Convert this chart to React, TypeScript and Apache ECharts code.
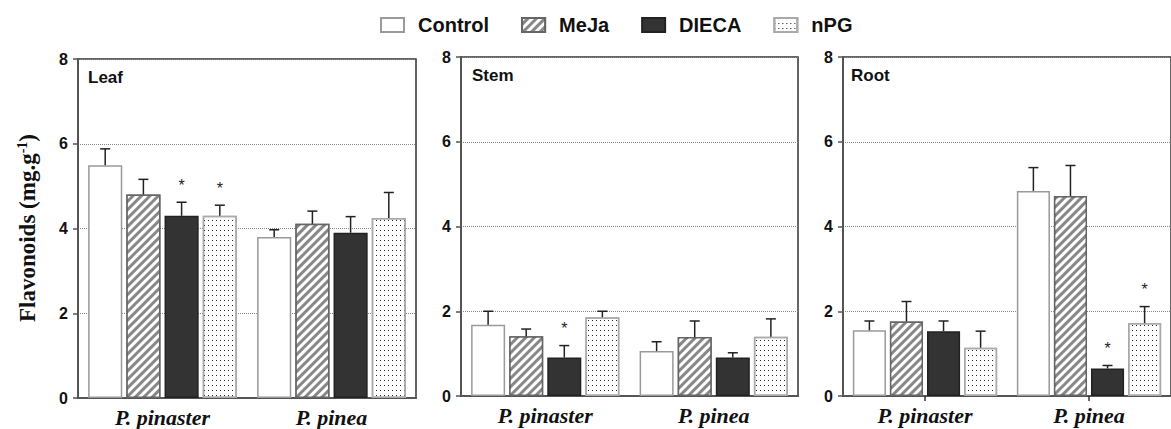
import { useEffect, useRef } from "react";
import * as echarts from "echarts";

const categories = ["P. pinaster", "P. pinea"];
const treatments = ["Control", "MeJa", "DIECA", "nPG"];
const panelNames = ["Leaf", "Stem", "Root"];

// Leaf
const leafControl = [5.49, 3.8];
const leafControlErr = [0.39, 0.17];
const leafMeJa = [4.8, 4.11];
const leafMeJaErr = [0.36, 0.3];
const leafDIECA = [4.3, 3.9];
const leafDIECAErr = [0.32, 0.38];
const leafNPG = [4.3, 4.25];
const leafNPGErr = [0.25, 0.6];
const leafSig = [[0, 0], [0, 0], [1, 0], [1, 0]];

// Stem
const stemControl = [1.68, 1.06];
const stemControlErr = [0.32, 0.22];
const stemMeJa = [1.41, 1.39];
const stemMeJaErr = [0.17, 0.38];
const stemDIECA = [0.91, 0.91];
const stemDIECAErr = [0.28, 0.11];
const stemNPG = [1.86, 1.4];
const stemNPGErr = [0.14, 0.42];
const stemSig = [[0, 0], [0, 0], [1, 0], [0, 0]];

// Root
const rootControl = [1.55, 4.84];
const rootControlErr = [0.22, 0.55];
const rootMeJa = [1.76, 4.72];
const rootMeJaErr = [0.47, 0.72];
const rootDIECA = [1.53, 0.65];
const rootDIECAErr = [0.24, 0.07];
const rootNPG = [1.14, 1.72];
const rootNPGErr = [0.39, 0.39];
const rootSig = [[0, 0], [0, 0], [0, 1], [0, 1]];

const yMin = 0;
const yMax = 8;
const yInterval = 2;

const panels = [
  { means: [leafControl, leafMeJa, leafDIECA, leafNPG], errs: [leafControlErr, leafMeJaErr, leafDIECAErr, leafNPGErr], sig: leafSig },
  { means: [stemControl, stemMeJa, stemDIECA, stemNPG], errs: [stemControlErr, stemMeJaErr, stemDIECAErr, stemNPGErr], sig: stemSig },
  { means: [rootControl, rootMeJa, rootDIECA, rootNPG], errs: [rootControlErr, rootMeJaErr, rootDIECAErr, rootNPGErr], sig: rootSig },
];

const gridLayouts = [
  { left: 78, top: 59, width: 338, height: 339 },
  { left: 461, top: 57, width: 337, height: 339 },
  { left: 843, top: 57, width: 338, height: 339 },
];
const labelPos = [
  { x: 88, y: 77 },
  { x: 472, y: 75 },
  { x: 851, y: 75 },
];

const CAT_GAP = 0.12;
const BAR_GAP = 0.12;

const barStyles: any[] = [
  { color: "#ffffff", borderColor: "#9a9a9a", borderWidth: 1.5 },
  {
    color: "#888888",
    borderColor: "#666666",
    borderWidth: 1.5,
    decal: { symbol: "rect", symbolSize: 1, color: "#ffffff", dashArrayX: [1, 0], dashArrayY: [3, 3], rotation: -Math.PI / 4 },
  },
  { color: "#333333", borderColor: "#222222", borderWidth: 1.5 },
  {
    color: "#ffffff",
    borderColor: "#aaaaaa",
    borderWidth: 1.5,
    decal: { symbol: "rect", symbolSize: 1, color: "#222222", dashArrayX: [1, 3], dashArrayY: [1, 4], rotation: 0 },
  },
];

function buildOption() {
  const grid: any[] = [];
  const xAxis: any[] = [];
  const yAxis: any[] = [];
  const series: any[] = [];
  const graphic: any[] = [];

  panels.forEach((p, pi) => {
    grid.push({ ...gridLayouts[pi], show: true, borderColor: "#333", borderWidth: 1.5, backgroundColor: "transparent" });
    xAxis.push({
      type: "category",
      gridIndex: pi,
      data: categories,
      axisLine: { lineStyle: { color: "#555", width: 2 } },
      axisTick: { show: pi === 2, alignWithLabel: true, length: 5, lineStyle: { color: "#333", width: 1.5 } },
      axisLabel: {
        margin: 8,
        fontFamily: "Liberation Serif",
        fontStyle: "italic",
        fontWeight: "bold",
        fontSize: 22,
        color: "#111",
      },
      splitLine: { show: false },
    });
    yAxis.push({
      type: "value",
      gridIndex: pi,
      min: yMin,
      max: yMax,
      interval: yInterval,
      axisLine: { show: true, lineStyle: { color: "#555", width: 2 } },
      axisTick: { show: true, length: 5, lineStyle: { color: "#555", width: 1.5 } },
      axisLabel: { margin: 10, fontFamily: "Liberation Sans", fontWeight: "bold", fontSize: 16, color: "#111" },
      splitLine: { show: true, lineStyle: { color: "#888", type: "dotted", width: 1 } },
    });
    treatments.forEach((t, ti) => {
      series.push({
        type: "bar",
        name: t,
        xAxisIndex: pi,
        yAxisIndex: pi,
        data: p.means[ti],
        barCategoryGap: CAT_GAP * 100 + "%",
        barGap: BAR_GAP * 100 + "%",
        itemStyle: barStyles[ti],
        emphasis: { disabled: true },
      });
    });
    const errData: any[] = [];
    treatments.forEach((t, ti) => {
      categories.forEach((c, ci) => {
        errData.push([ci, p.means[ti][ci], p.errs[ti][ci], ti, p.sig[ti][ci]]);
      });
    });
    series.push({
      type: "custom",
      xAxisIndex: pi,
      yAxisIndex: pi,
      z: 5,
      silent: true,
      data: errData,
      encode: { x: 0, y: 1 },
      renderItem: (params: any, api: any) => {
        const ci = api.value(0);
        const val = api.value(1);
        const err = api.value(2);
        const si = api.value(3);
        const sig = api.value(4);
        const band = api.size([1, 0])[0];
        const n = treatments.length;
        const bw = (band * (1 - CAT_GAP)) / (n + (n - 1) * BAR_GAP);
        const total = n * bw + (n - 1) * bw * BAR_GAP;
        const base = api.coord([ci, val]);
        const x = base[0] - total / 2 + si * bw * (1 + BAR_GAP) + bw / 2;
        const yTop = api.coord([ci, val + err])[1];
        const children: any[] = [
          { type: "line", shape: { x1: x, y1: base[1], x2: x, y2: yTop }, style: { stroke: "#222", lineWidth: 1.5 } },
          { type: "line", shape: { x1: x - 5, y1: yTop, x2: x + 5, y2: yTop }, style: { stroke: "#222", lineWidth: 1.5 } },
        ];
        if (sig) {
          children.push({
            type: "text",
            x: x,
            y: yTop - 17,
            style: { text: "*", fontSize: 16, fontFamily: "Liberation Sans", fill: "#222", align: "center", verticalAlign: "middle" },
          });
        }
        return { type: "group", children };
      },
    });
    graphic.push({
      type: "text",
      x: labelPos[pi].x,
      y: labelPos[pi].y,
      style: {
        text: panelNames[pi],
        fontFamily: "Liberation Sans",
        fontWeight: "bold",
        fontSize: 17,
        fill: "#111",
        align: "left",
        verticalAlign: "middle",
      },
    });
  });

  graphic.push({
    type: "text",
    x: 27,
    y: 228,
    rotation: Math.PI / 2,
    style: {
      text: "Flavonoids (mg.g{sup|-1})",
      fontFamily: "Liberation Serif",
      fontWeight: "bold",
      fontSize: 23,
      fill: "#111",
      align: "center",
      verticalAlign: "middle",
      rich: {
        sup: { fontFamily: "Liberation Serif", fontWeight: "bold", fontSize: 14, verticalAlign: "top", lineHeight: 14 },
      },
    },
  });

  return {
    animation: false,
    backgroundColor: "#ffffff",
    legend: {
      data: treatments,
      left: 380,
      top: 15,
      padding: 0,
      icon: "rect",
      itemWidth: 23,
      itemHeight: 14,
      itemGap: 32,
      selectedMode: false,
      textStyle: { fontFamily: "Liberation Sans", fontWeight: "bold", fontSize: 20, color: "#111", padding: [0, 0, 0, 9] },
    },
    grid,
    xAxis,
    yAxis,
    series,
    graphic,
  };
}

export default function App() {
  const ref = useRef<HTMLDivElement>(null);
  useEffect(() => {
    if (!ref.current) return;
    const chart = echarts.init(ref.current, null, { renderer: "svg" });
    chart.setOption(buildOption() as any);
    return () => chart.dispose();
  }, []);
  return <div ref={ref} style={{ position: "fixed", left: 0, top: 0, width: "1171px", height: "429px" }} />;
}
